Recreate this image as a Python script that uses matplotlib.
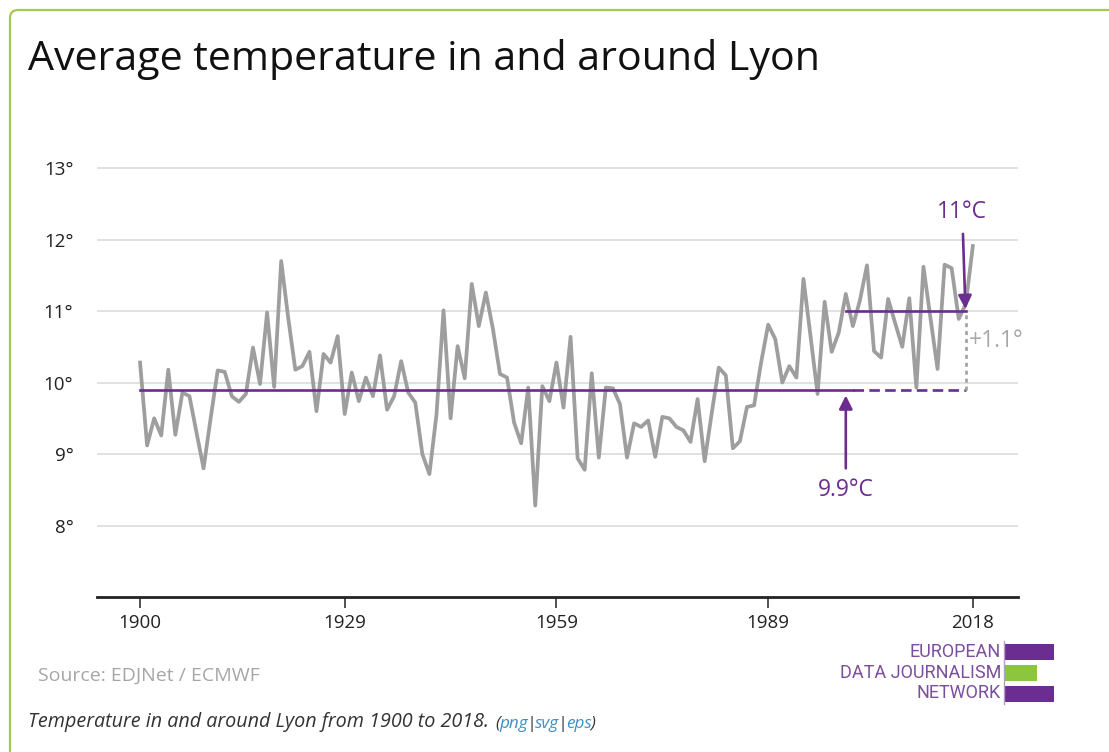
import matplotlib
matplotlib.use("Agg")
import matplotlib.pyplot as plt
from matplotlib.patches import FancyBboxPatch, Rectangle
from matplotlib.lines import Line2D

# ---------------- data ----------------
years = list(range(1900, 2019))
temps = [
    10.28, 9.12, 9.50, 9.26, 10.18, 9.27, 9.86, 9.81, 9.30, 8.80,    # 1900s
    9.50, 10.17, 10.15, 9.81, 9.73, 9.84, 10.49, 9.98, 10.98, 9.94,  # 1910s
    11.70, 10.90, 10.18, 10.23, 10.43, 9.60, 10.40, 10.28, 10.65, 9.56,  # 1920s
    10.14, 9.74, 10.07, 9.81, 10.38, 9.62, 9.81, 10.30, 9.86, 9.72,  # 1930s
    9.00, 8.72, 9.55, 11.01, 9.50, 10.51, 10.06, 11.38, 10.79, 11.26,  # 1940s
    10.75, 10.12, 10.07, 9.44, 9.15, 9.93, 8.28, 9.95, 9.74, 10.28,  # 1950s
    9.65, 10.64, 8.94, 8.78, 10.13, 8.95, 9.93, 9.92, 9.70, 8.95,    # 1960s
    9.43, 9.38, 9.47, 8.96, 9.52, 9.50, 9.38, 9.33, 9.17, 9.77,      # 1970s
    8.90, 9.57, 10.21, 10.10, 9.08, 9.18, 9.66, 9.68, 10.28, 10.81,  # 1980s
    10.61, 10.00, 10.23, 10.07, 11.45, 10.65, 9.84, 11.13, 10.43, 10.70,  # 1990s
    11.24, 10.79, 11.15, 11.64, 10.44, 10.35, 11.17, 10.83, 10.50, 11.18,  # 2000s
    9.93, 11.62, 10.90, 10.19, 11.65, 11.60, 10.89, 11.10, 11.91,    # 2010s
]
x_ticks = [1900, 1929, 1959, 1989, 2018]
y_ticks = [8, 9, 10, 11, 12, 13]
y_tick_labels = ["8°", "9°", "10°", "11°", "12°", "13°"]

baseline_value = 9.9
baseline_solid_years = [1900, 2001]
baseline_dashed_years = [2001, 2017]
recent_value = 11.0
recent_years = [2000, 2017]
baseline_label = "9.9°C"
recent_label = "11°C"
diff_label = "+1.1°"

title = "Average temperature in and around Lyon"
source = "Source: EDJNet / ECMWF"
caption = "Temperature in and around Lyon from 1900 to 2018."
link_parts = ["(", "png", "|", "svg", "|", "eps", ")"]
logo_lines = ["EUROPEAN", "DATA JOURNALISM", "NETWORK"]

# ---------------- style ----------------
PURPLE = "#6b2d8f"
LOGO_TEXT = "#7d4d9e"
GREEN = "#8cc63f"
GREY_LINE = "#9e9e9e"
GRID = "#dedede"
LINK = "#3d8fc6"
FONT = "Open Sans"

W, H = 1109, 752
fig = plt.figure(figsize=(W / 100, H / 100), dpi=100)
fig.patch.set_facecolor("white")


def fx(px):
    return px / W


def fy(py):
    return 1 - py / H


# frame (inches coordinates)
frame = FancyBboxPatch((10 / 100, -0.5), (W + 60) / 100, (H - 10) / 100 + 0.5,
                       boxstyle="round,pad=0,rounding_size=0.08",
                       transform=fig.dpi_scale_trans, fill=False,
                       ec="#a9c94e", lw=1.6, zorder=0)
fig.add_artist(frame)

# axes placement
ax = fig.add_axes([fx(97), fy(597), fx(1018) - fx(97), fy(161) - fy(597)])
ax.set_xlim(1893.9, 2024.4)
ax.set_ylim(7.0, 13.1)
ax.patch.set_alpha(0)

for v in y_ticks:
    ax.axhline(v, color=GRID, lw=1.3, zorder=1)

ax.plot(years, temps, color=GREY_LINE, lw=2.7, zorder=3)

# reference lines
ax.plot(baseline_solid_years, [baseline_value] * 2, color=PURPLE, lw=1.9, zorder=4)
ax.plot(baseline_dashed_years, [baseline_value] * 2, color=PURPLE, lw=1.9,
        ls=(0, (4, 2)), zorder=4)
ax.plot(recent_years, [recent_value] * 2, color=PURPLE, lw=1.9, zorder=4)
ax.plot([recent_years[1]] * 2, [baseline_value, recent_value], color="#a0a0a0",
        lw=1.9, ls=(0, (1.5, 1.5)), zorder=4)

# annotations
ax.annotate("", xy=(2000, 9.82), xytext=(2000, 8.80),
            arrowprops=dict(arrowstyle="-|>", color=PURPLE, lw=1.9,
                            mutation_scale=20, shrinkA=0, shrinkB=0), zorder=5)
ax.text(2000, 8.50, baseline_label, color=PURPLE, fontsize=16.5, family=FONT,
        ha="center", va="center")
ax.annotate("", xy=(2016.95, 11.03), xytext=(2016.6, 12.08),
            arrowprops=dict(arrowstyle="-|>", color=PURPLE, lw=1.9,
                            mutation_scale=20, shrinkA=0, shrinkB=0), zorder=5,
            annotation_clip=False)
ax.text(2016.5, 12.39, recent_label, color=PURPLE, fontsize=16.5, family=FONT,
        ha="center", va="center", clip_on=False)
ax.text(2017.5, 10.58, diff_label, color="#a8a8a8", fontsize=16.5, family=FONT,
        ha="left", va="center", clip_on=False)

# axes styling
for s in ["left", "right", "top"]:
    ax.spines[s].set_visible(False)
ax.spines["bottom"].set_color("#222222")
ax.spines["bottom"].set_linewidth(2)
ax.set_xticks(x_ticks)
ax.set_xticklabels([str(t) for t in x_ticks], family=FONT, fontsize=13.5, color="#222222")
ax.set_yticks(y_ticks)
ax.set_yticklabels(y_tick_labels, family=FONT, fontsize=13.5, color="#222222")
ax.tick_params(axis="y", length=0, pad=17)
ax.tick_params(axis="x", length=8, width=1.2, color="#333333", pad=4)

# title / source / caption
fig.text(fx(28), fy(60), title, family=FONT, fontsize=29.6, color="#111111",
         ha="left", va="center")
fig.text(fx(38), fy(676), source, family=FONT, fontsize=14, color="#a6a6a6",
         ha="left", va="center")
cap = fig.text(fx(28), fy(727), caption, family=FONT, fontsize=14.2, style="italic",
               color="#333333", ha="left", va="baseline")
prev = cap
for i, txt in enumerate(link_parts):
    col = LINK if txt in ("png", "svg", "eps") else "#333333"
    prev = ax.annotate(txt, xy=(1, 0), xycoords=prev,
                       xytext=(4.5 if i == 0 else -0.8, 0),
                       textcoords="offset points", ha="left", va="bottom",
                       family=FONT, fontsize=12.3, style="italic", color=col,
                       annotation_clip=False)

# logo
logo_y = [652, 673, 693]
for txt, py in zip(logo_lines, logo_y):
    fig.text(fx(1001), fy(py), txt, family="Roboto", fontsize=13, color=LOGO_TEXT,
             ha="right", va="center")
fig.add_artist(Line2D([fx(1004), fx(1004)], [fy(641), fy(704)], color="#b79cc9",
                      lw=1.0, transform=fig.transFigure))
fig.add_artist(Rectangle((fx(1005), fy(660)), fx(1054) - fx(1005), fy(644) - fy(660),
                         transform=fig.transFigure, color=PURPLE, lw=0))
fig.add_artist(Rectangle((fx(1005), fy(681)), fx(1037) - fx(1005), fy(665) - fy(681),
                         transform=fig.transFigure, color=GREEN, lw=0))
fig.add_artist(Rectangle((fx(1005), fy(702)), fx(1054) - fx(1005), fy(686) - fy(702),
                         transform=fig.transFigure, color=PURPLE, lw=0))

fig.savefig("out.png", dpi=100)
